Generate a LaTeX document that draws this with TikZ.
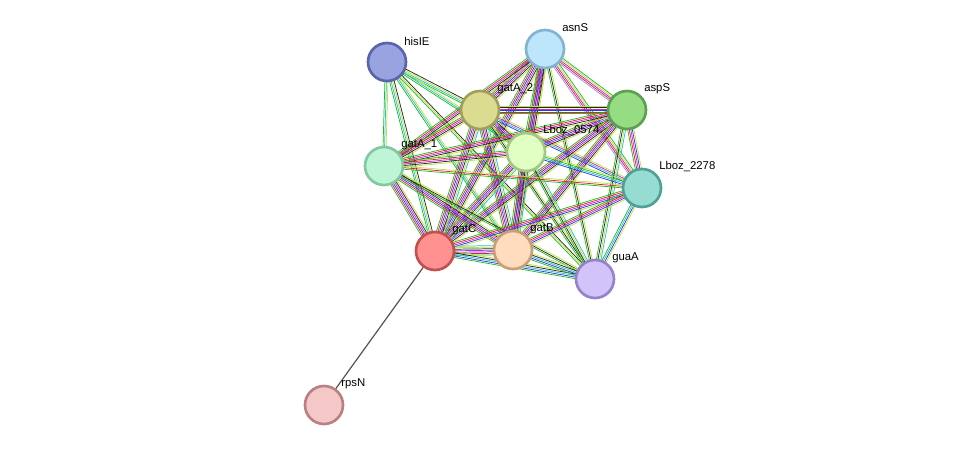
\documentclass[tikz,border=0pt]{standalone}
\usepackage{fontspec}
\setmainfont{Liberation Sans}
\usetikzlibrary{calc}
\definecolor{cG}{RGB}{30,190,30}
\definecolor{cR}{RGB}{230,30,60}
\definecolor{cB}{RGB}{40,60,230}
\definecolor{cM}{RGB}{200,40,200}
\definecolor{cK}{RGB}{40,40,40}
\definecolor{cY}{RGB}{190,225,60}
\definecolor{cC}{RGB}{40,190,210}
\definecolor{cL}{RGB}{150,150,240}
\newcommand\bund[4]{\foreach \c [count=\i] in {#4}{\pgfmathsetmacro\o{(\i-(#3+1)/2)*1.15}\draw[\c,line width=0.55pt] ($(#1)!\o pt!90:(#2)$) -- ($(#2)!\o pt!-90:(#1)$);}}
\tikzset{prot/.style={circle,minimum size=38\pgflinewidth,inner sep=0pt,line width=2pt,minimum size=28.5pt},
lab/.style={anchor=west,font=\fontsize{8.5pt}{10pt}\selectfont,inner sep=0pt}}
\begin{document}
\begin{tikzpicture}[x=0.75pt,y=-0.75pt]
\useasboundingbox (0,0) rectangle (976,451);
\coordinate (hisIE) at (387,62);
\coordinate (asnS) at (545,49);
\coordinate (gatA2) at (480,110);
\coordinate (aspS) at (627,110);
\coordinate (L574) at (526,152);
\coordinate (gatA1) at (384,166);
\coordinate (L2278) at (642,188);
\coordinate (gatC) at (435,251);
\coordinate (gatB) at (513,250);
\coordinate (guaA) at (595,279);
\coordinate (rpsN) at (324,405);
% edges
\bund{hisIE}{gatA2}{4}{cG,cC,cY,cK}
\bund{hisIE}{gatA1}{3}{cG,cC,cY}
\bund{hisIE}{gatC}{4}{cG,cC,cY,cK}
\bund{hisIE}{gatB}{3}{cG,cC,cY}
\bund{hisIE}{L574}{3}{cG,cC,cY}
\bund{hisIE}{guaA}{3}{cG,cY,cK}
\bund{asnS}{gatA2}{6}{cG,cR,cB,cM,cK,cY}
\bund{asnS}{aspS}{5}{cL,cR,cM,cY,cG}
\bund{asnS}{L574}{6}{cG,cR,cB,cM,cK,cY}
\bund{asnS}{gatA1}{5}{cG,cR,cM,cK,cY}
\bund{asnS}{L2278}{5}{cL,cR,cM,cY,cG}
\bund{asnS}{gatC}{6}{cG,cR,cB,cM,cK,cY}
\bund{asnS}{gatB}{6}{cG,cR,cB,cM,cK,cY}
\bund{asnS}{guaA}{3}{cG,cK,cY}
\bund{gatA2}{aspS}{6}{cG,cR,cB,cM,cK,cY}
\bund{gatA2}{L574}{6}{cG,cR,cB,cM,cK,cY}
\bund{gatA2}{gatA1}{5}{cG,cR,cM,cK,cY}
\bund{gatA2}{L2278}{4}{cB,cC,cM,cY}
\bund{gatA2}{gatC}{7}{cG,cR,cB,cM,cK,cY,cC}
\bund{gatA2}{gatB}{7}{cG,cR,cB,cM,cK,cY,cC}
\bund{gatA2}{guaA}{3}{cG,cK,cY}
\bund{aspS}{L574}{6}{cG,cR,cB,cM,cK,cY}
\bund{aspS}{gatA1}{5}{cG,cR,cM,cK,cY}
\bund{aspS}{L2278}{5}{cG,cR,cM,cB,cY}
\bund{aspS}{gatC}{6}{cG,cR,cB,cM,cK,cY}
\bund{aspS}{gatB}{6}{cG,cR,cB,cM,cK,cY}
\bund{aspS}{guaA}{4}{cG,cK,cY,cC}
\bund{L574}{gatA1}{5}{cG,cR,cM,cK,cY}
\bund{L574}{L2278}{4}{cB,cC,cG,cY}
\bund{L574}{gatC}{7}{cG,cR,cB,cM,cK,cY,cC}
\bund{L574}{gatB}{7}{cG,cR,cB,cM,cK,cY,cC}
\bund{L574}{guaA}{4}{cG,cK,cY,cC}
\bund{gatA1}{L2278}{3}{cG,cR,cY}
\bund{gatA1}{gatC}{6}{cG,cR,cB,cM,cK,cY}
\bund{gatA1}{gatB}{6}{cG,cR,cB,cM,cK,cY}
\bund{gatA1}{guaA}{3}{cG,cK,cY}
\bund{L2278}{gatC}{5}{cG,cR,cM,cB,cY}
\bund{L2278}{gatB}{5}{cG,cR,cM,cB,cY}
\bund{L2278}{guaA}{4}{cG,cC,cB,cY}
\bund{gatC}{gatB}{7}{cG,cR,cB,cM,cK,cY,cC}
\bund{gatC}{guaA}{5}{cG,cB,cC,cK,cY}
\bund{gatB}{guaA}{5}{cG,cB,cC,cK,cY}
\draw[cK!80,line width=0.9pt] (gatC) -- (rpsN);
% nodes
\foreach \n/\f/\d in {hisIE/{152,163,224}/{90,100,170},asnS/{190,230,250}/{130,180,210},gatA2/{220,220,145}/{160,160,90},aspS/{150,220,130}/{90,160,80},L574/{225,255,195}/{160,200,130},gatA1/{190,245,215}/{130,200,160},L2278/{150,220,210}/{80,160,150},gatC/{255,145,145}/{195,80,80},gatB/{255,220,190}/{200,160,120},guaA/{210,195,250}/{150,130,200},rpsN/{245,200,200}/{185,130,130}}{
\definecolor{fc}{RGB}{\f}\definecolor{dc}{RGB}{\d}
\node[prot,fill=fc,draw=dc] (n\n) at (\n) {};}
\foreach \n/\t in {hisIE/hisIE,asnS/asnS,gatA2/gatA\_2,aspS/aspS,L574/Lboz\_0574,gatA1/gatA\_1,L2278/Lboz\_2278,gatC/gatC,gatB/gatB,guaA/guaA,rpsN/rpsN}
\node[lab] (t\n) at ($(\n)+(17,-21)$) {\t};
\end{tikzpicture}
\end{document}
